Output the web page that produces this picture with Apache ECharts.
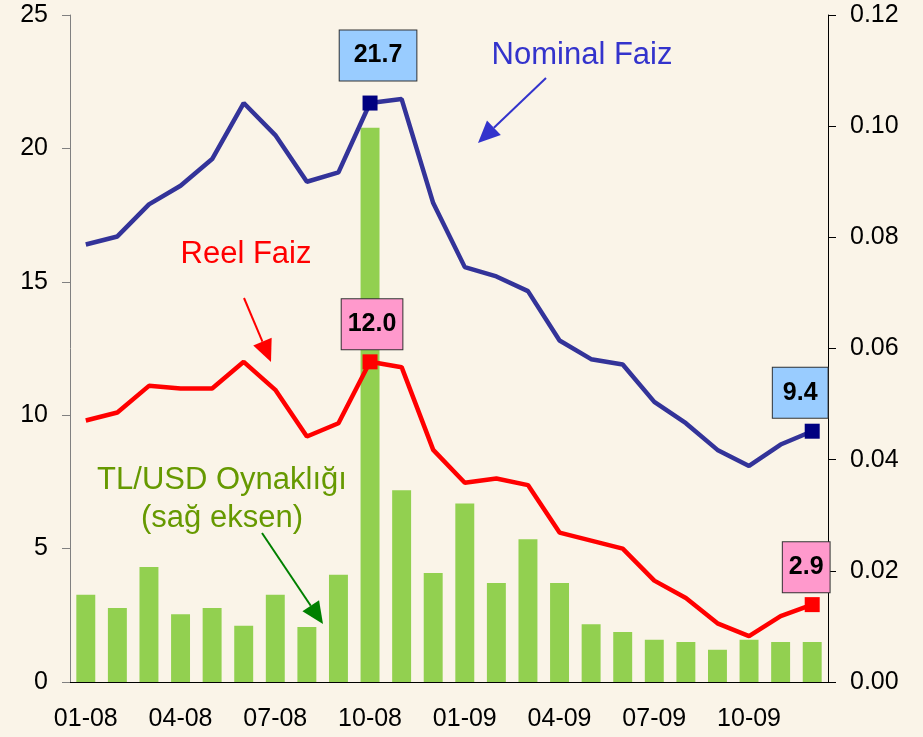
<!DOCTYPE html>
<html>
<head>
<meta charset="utf-8">
<script src="https://cdn.jsdelivr.net/npm/echarts@6/dist/echarts.min.js"></script>
<style>
html,body{margin:0;padding:0;background:#FAF4E8;}
#main{width:923px;height:737px;}
</style>
</head>
<body>
<div id="main"></div>
<script>
const categories = ['01-08','02-08','03-08','04-08','05-08','06-08','07-08','08-08','09-08','10-08','11-08','12-08',
                    '01-09','02-09','03-09','04-09','05-09','06-09','07-09','08-09','09-09','10-09','11-09','12-09'];
const nominalFaiz = [16.4,16.7,17.9,18.6,19.6,21.7,20.5,18.75,19.1,21.7,21.85,17.95,
                     15.55,15.2,14.65,12.8,12.1,11.9,10.5,9.7,8.7,8.1,8.9,9.4];
const reelFaiz = [9.8,10.1,11.1,11.0,11.0,12.0,10.95,9.2,9.7,12.0,11.8,8.7,
                  7.47,7.63,7.38,5.6,5.3,5.0,3.8,3.15,2.2,1.72,2.47,2.9];
const tlUsdVol = [0.0157,0.0133,0.0207,0.0122,0.0133,0.0101,0.0157,0.0099,0.0193,0.0997,0.0345,0.0196,
                  0.0321,0.0178,0.0257,0.0178,0.0104,0.0090,0.0076,0.0072,0.0058,0.0076,0.0072,0.0072];
const leftTicks = {min:0, max:25, interval:5};
const rightTicks = {min:0, max:0.12, interval:0.02};

const FONT = 'Liberation Sans, Arial, sans-serif';
const chart = echarts.init(document.getElementById('main'));

function labelled(arr, idx, bg, pad, offset, dist) {
  return arr.map((v, i) => {
    const o = idx.indexOf(i);
    if (o < 0) return {value: v, symbolSize: 0};
    return {
      value: v,
      symbolSize: 15,
      label: {
        show: true, position: 'top', distance: dist[o], offset: offset[o],
        formatter: v.toFixed(1),
        fontFamily: FONT, fontSize: 25, fontWeight: 'bold', color: '#000',
        backgroundColor: bg, borderColor: '#333', borderWidth: 1,
        padding: pad[o], lineHeight: 24
      }
    };
  });
}

function arrow(x1, y1, x2, y2, color) {
  const dx = x2 - x1, dy = y2 - y1, L = Math.hypot(dx, dy);
  const ux = dx / L, uy = dy / L, hl = 22, hw = 10;
  const bx = x2 - ux * hl, by = y2 - uy * hl;
  return [
    {type:'line', shape:{x1:x1, y1:y1, x2:bx, y2:by}, style:{stroke:color, lineWidth:2}, z:100},
    {type:'polygon', shape:{points:[[x2,y2],[bx - uy*hw, by + ux*hw],[bx + uy*hw, by - ux*hw]]},
     style:{fill:color}, z:100}
  ];
}

const option = {
  backgroundColor: '#FAF4E8',
  animation: false,
  grid: {left: 70, right: 95, top: 15, bottom: 55},
  xAxis: {
    type: 'category',
    data: categories,
    boundaryGap: true,
    axisLine: {lineStyle: {color: '#000', width: 1}},
    axisTick: {interval: 2, length: 8, lineStyle: {color: '#000'}},
    axisLabel: {interval: 2, margin: 25, fontFamily: FONT, fontSize: 25, color: '#000'}
  },
  yAxis: [
    {
      type: 'value', min: leftTicks.min, max: leftTicks.max, interval: leftTicks.interval,
      axisLine: {show: true, lineStyle: {color: '#808080'}},
      axisTick: {show: true, length: 8, lineStyle: {color: '#808080'}},
      splitLine: {show: false},
      axisLabel: {margin: 22, fontFamily: FONT, fontSize: 25, color: '#000'}
    },
    {
      type: 'value', min: rightTicks.min, max: rightTicks.max, interval: rightTicks.interval,
      position: 'right',
      axisLine: {show: true, lineStyle: {color: '#000'}},
      axisTick: {show: true, length: 8, lineStyle: {color: '#000'}},
      splitLine: {show: false},
      axisLabel: {margin: 22, fontFamily: FONT, fontSize: 25, color: '#000',
                  formatter: v => v.toFixed(2)}
    }
  ],
  series: [
    {
      name: 'TL/USD Oynaklığı', type: 'bar', yAxisIndex: 1,
      data: tlUsdVol, barWidth: '60%',
      itemStyle: {color: '#92D050'}, z: 1
    },
    {
      name: 'Nominal Faiz', type: 'line', yAxisIndex: 0,
      data: labelled(nominalFaiz, [9, 23], '#99CCFF', [[13,14],[13,10]], [[8,0],[-12,0]], [15,6]),
      symbol: 'rect', showSymbol: true,
      lineStyle: {color: '#333399', width: 4.5},
      itemStyle: {color: '#000080'}, z: 3
    },
    {
      name: 'Reel Faiz', type: 'line', yAxisIndex: 0,
      data: labelled(reelFaiz, [9, 23], '#FF99CC', [[13,6],[13,6]], [[2,0],[-6,0]], [5,5]),
      symbol: 'rect', showSymbol: true,
      lineStyle: {color: '#FF0000', width: 4.5},
      itemStyle: {color: '#FF0000'}, z: 3
    }
  ],
  graphic: [
    {type:'text', x:582, y:55, style:{text:'Nominal Faiz', fill:'#3333CC', font:'31px ' + FONT, textAlign:'center', textVerticalAlign:'middle'}, z:100},
    {type:'text', x:246, y:254, style:{text:'Reel Faiz', fill:'#FF0000', font:'31px ' + FONT, textAlign:'center', textVerticalAlign:'middle'}, z:100},
    {type:'text', x:222, y:480, style:{text:'TL/USD Oynaklığı', fill:'#669900', font:'31px ' + FONT, textAlign:'center', textVerticalAlign:'middle'}, z:100},
    {type:'text', x:222, y:518, style:{text:'(sağ eksen)', fill:'#669900', font:'31px ' + FONT, textAlign:'center', textVerticalAlign:'middle'}, z:100},
    ...arrow(546, 78, 478, 143, '#3333CC'),
    ...arrow(244, 298, 271, 362, '#FF0000'),
    ...arrow(262, 533, 323, 624, '#008000')
  ]
};
chart.setOption(option);
</script>
</body>
</html>
